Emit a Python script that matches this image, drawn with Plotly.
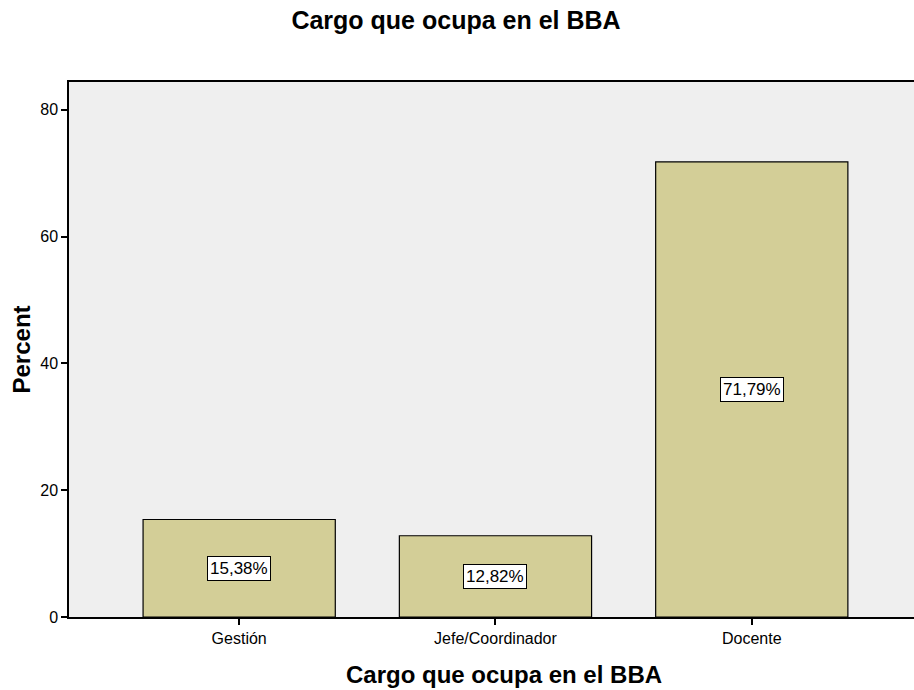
import plotly.graph_objects as go

categories = ["Gestión", "Jefe/Coordinador", "Docente"]
percents = [15.38, 12.82, 71.79]
y_ticks = [0, 20, 40, 60, 80]

labels = [f"{v:.2f}%".replace(".", ",") for v in percents]

FONT = "Liberation Sans, Arial, sans-serif"

fig = go.Figure()
fig.add_trace(go.Bar(
    x=categories, y=percents, width=0.75,
    marker=dict(color="#d3ce97", line=dict(color="#000000", width=1.2)),
    hoverinfo="skip",
))

for c, v, t in zip(categories, percents, labels):
    fig.add_annotation(
        x=c, y=v / 2, text=t, showarrow=False,
        font=dict(family=FONT, size=17, color="#000"),
        bgcolor="#ffffff", bordercolor="#000000", borderwidth=1, borderpad=2,
    )

# x-axis title (SPSS centres it on a plot area wider than the visible window)
fig.add_annotation(
    xref="paper", yref="paper", x=(504 - 69) / 845, y=0,
    xanchor="center", yanchor="middle", yshift=-57,
    text="<b>Cargo que ocupa en el BBA</b>", showarrow=False,
    font=dict(family=FONT, size=24, color="#000"),
)

fig.update_layout(
    width=914, height=690,
    margin=dict(l=69, r=0, t=82, b=73),
    paper_bgcolor="#ffffff", plot_bgcolor="#efefef",
    showlegend=False,
    title=dict(text="<b>Cargo que ocupa en el BBA</b>", x=456 / 914, xanchor="center",
               y=1 - 20 / 690, yanchor="middle", yref="container",
               font=dict(family=FONT, size=25, color="#000")),
    font=dict(family=FONT, size=16, color="#000"),
    xaxis=dict(
        range=[-0.664, 2.633], showgrid=False, zeroline=False,
        showline=True, linecolor="#000", linewidth=1.5, mirror=True,
        ticks="outside", ticklen=6, tickcolor="#000", tickwidth=1.5,
        tickfont=dict(size=16),
    ),
    yaxis=dict(
        range=[0, 84.4], tickvals=y_ticks, showgrid=False, zeroline=False,
        showline=True, linecolor="#000", linewidth=1.5,
        ticks="outside", ticklen=6, tickcolor="#000", tickwidth=1.5,
        tickfont=dict(size=16),
        title=dict(text="<b>Percent</b>", font=dict(size=24), standoff=3),
    ),
)

fig.write_html("out.html", config={"displayModeBar": False},
               post_script="document.body.style.margin='0';")
